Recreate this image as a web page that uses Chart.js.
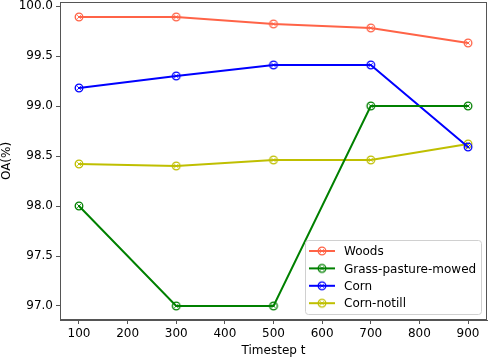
<!doctype html>
<html lang="en">
<head>
<meta charset="utf-8">
<title>OA vs Timestep</title>
<script src="https://cdn.jsdelivr.net/npm/chart.js@4.4.0/dist/chart.umd.min.js"></script>
<style>
  html, body { margin: 0; padding: 0; background: #fff; }
  #wrap { width: 488px; height: 358px; }
</style>
</head>
<body>
<div id="wrap"><canvas id="oa" width="488" height="358"></canvas></div>
<script>
// values
var timesteps = [100, 300, 500, 700, 900];
var woods = [99.89, 99.89, 99.82, 99.78, 99.63];
var grass = [98.0, 97.0, 97.0, 99.0, 99.0];
var corn = [99.18, 99.30, 99.41, 99.41, 98.59];
var cornNotill = [98.42, 98.40, 98.46, 98.46, 98.62];
var seriesNames = ['Woods', 'Grass-pasture-mowed', 'Corn', 'Corn-notill'];
var xTicks = [100, 200, 300, 400, 500, 600, 700, 800, 900];
var yTicks = [97.0, 97.5, 98.0, 98.5, 99.0, 99.5, 100.0];

var colors = ['#ff6347', '#008000', '#0000ff', '#bfbf00'];
var FONT = "'DejaVu Sans', sans-serif";

// circle marker with a small x inside
function marker(color) {
  var c = document.createElement('canvas');
  c.width = 12; c.height = 12;
  var g = c.getContext('2d');
  g.strokeStyle = color;
  g.lineWidth = 1.3;
  g.beginPath(); g.arc(6, 6, 3.8, 0, Math.PI * 2); g.stroke();
  g.lineWidth = 1;
  g.beginPath();
  g.moveTo(4.3, 4.3); g.lineTo(7.7, 7.7);
  g.moveTo(7.7, 4.3); g.lineTo(4.3, 7.7);
  g.stroke();
  return c;
}

function toPoints(arr) {
  return arr.map(function (v, i) { return { x: timesteps[i], y: v }; });
}

var allData = [woods, grass, corn, cornNotill];
var datasets = allData.map(function (arr, i) {
  var m = marker(colors[i]);
  return {
    label: seriesNames[i],
    data: toPoints(arr),
    borderColor: colors[i],
    backgroundColor: colors[i],
    borderWidth: 2,
    pointStyle: m,
    pointRadius: 5,
    tension: 0,
    fill: false,
    _marker: m
  };
});

// top/right spines
var frame = {
  id: 'frame',
  afterDraw: function (chart) {
    var ca = chart.chartArea, g = chart.ctx;
    g.save();
    g.strokeStyle = '#555';
    g.lineWidth = 1;
    g.strokeRect(ca.left + 0.5, ca.top + 0.5, ca.right - ca.left - 1, ca.bottom - ca.top - 1);
    g.restore();
  }
};

// legend box in the lower right corner, like matplotlib
var innerLegend = {
  id: 'innerLegend',
  afterDraw: function (chart) {
    var ca = chart.chartArea, g = chart.ctx;
    var w = 176, h = 74;
    var x = ca.right - 6 - w, y = ca.bottom - 6 - h;
    g.save();
    g.fillStyle = 'rgba(255,255,255,0.8)';
    g.strokeStyle = '#d0d0d0';
    g.lineWidth = 1;
    g.beginPath();
    g.roundRect(x + 0.5, y + 0.5, w, h, 3);
    g.fill(); g.stroke();
    g.font = '12px ' + FONT;
    g.textBaseline = 'middle';
    chart.data.datasets.forEach(function (ds, i) {
      var ry = y + 11 + i * 17.4;
      g.strokeStyle = ds.borderColor;
      g.lineWidth = 2;
      g.beginPath(); g.moveTo(x + 4, ry); g.lineTo(x + 30, ry); g.stroke();
      g.drawImage(ds._marker, x + 17 - 6, ry - 6);
      g.fillStyle = '#000';
      g.fillText(ds.label, x + 39, ry + 1);
    });
    g.restore();
  }
};

function noPad(s) {
  s.paddingLeft = 0; s.paddingRight = 0; s.paddingTop = 0; s.paddingBottom = 0;
}

new Chart(document.getElementById('oa').getContext('2d'), {
  type: 'line',
  data: { datasets: datasets },
  plugins: [frame, innerLegend],
  options: {
    responsive: false,
    animation: false,
    layout: { autoPadding: false, padding: { top: 2, right: 1, left: 0, bottom: 0 } },
    plugins: { legend: { display: false }, tooltip: { enabled: false } },
    scales: {
      x: {
        type: 'linear',
        min: 61, max: 939,
        afterBuildTicks: function (s) { s.ticks = xTicks.map(function (v) { return { value: v }; }); },
        afterFit: function (s) { s.height = 38; noPad(s); },
        ticks: { color: '#000', font: { family: FONT, size: 12 }, padding: 3, maxRotation: 0,
          callback: function (v) { return v; } },
        grid: { drawOnChartArea: false, tickLength: 4, color: '#555' },
        border: { color: '#555' },
        title: { display: true, text: 'Timestep t', color: '#000', font: { family: FONT, size: 12 }, padding: { top: 0, bottom: 0 } }
      },
      y: {
        min: 96.86, max: 100.04,
        afterBuildTicks: function (s) { s.ticks = yTicks.map(function (v) { return { value: v }; }); },
        afterFit: function (s) { s.width = 60; noPad(s); },
        ticks: { color: '#000', font: { family: FONT, size: 12 }, padding: 3,
          callback: function (v) { return Number(v).toFixed(1); } },
        grid: { drawOnChartArea: false, tickLength: 4, color: '#555' },
        border: { color: '#555' },
        title: { display: true, text: 'OA(%)', color: '#000', font: { family: FONT, size: 12 }, padding: { top: 0, bottom: 0 } }
      }
    }
  }
});
</script>
</body>
</html>
